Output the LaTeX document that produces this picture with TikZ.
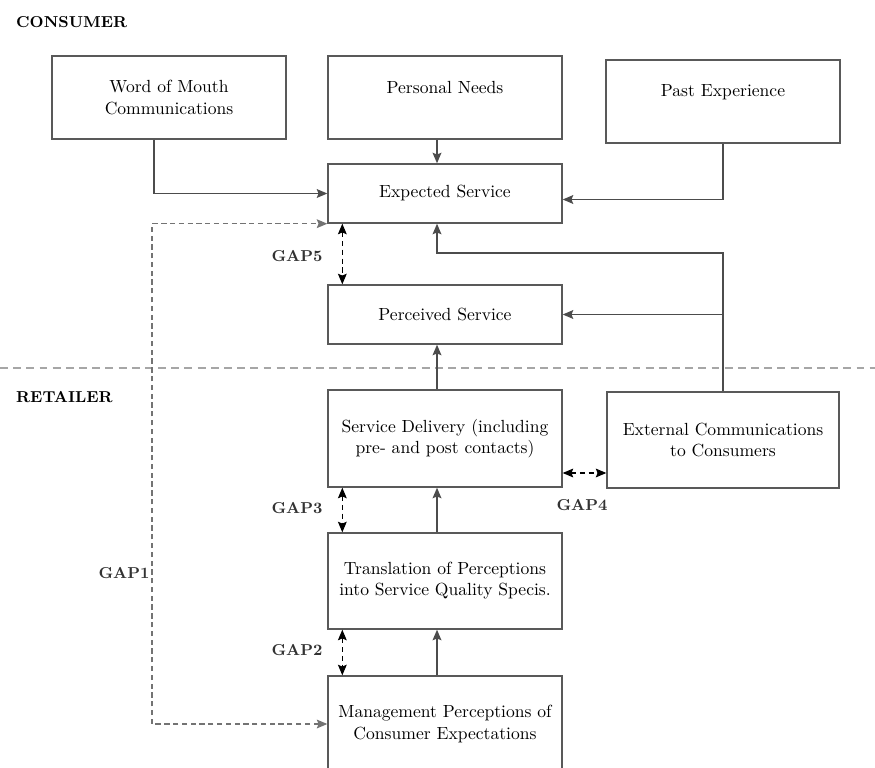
\documentclass[tikz,border=0pt]{standalone}
\usetikzlibrary{arrows.meta, positioning, calc}

\begin{document}
\begin{tikzpicture}[>={Stealth[length=6pt, width=5pt, inset=1pt]}, x=0.02cm, y=-0.02cm,
    box/.style={draw=black!65, line width=0.8pt, minimum width=4.68cm, align=center, inner sep=2pt},
    flow/.style={->, draw=black!70, line width=0.8pt},
    gap/.style={<->, densely dashed, line width=0.6pt},
    gaplabel/.style={font=\small\bfseries, text=black!80},
    side/.style={font=\small\bfseries, anchor=west}]
\useasboundingbox (0,0) rectangle (875,767);

% consumer / retailer split
\node [side] (consumer) at (10,22) {CONSUMER};
\node [side] (retailer) at (10,397) {RETAILER};
\draw[black!35, line width=0.8pt, dash pattern=on 4.5pt off 3pt] (0,368) -- (875,368);

\node [box, minimum height=1.66cm] (wom) at (169,97.5) {Word of Mouth\\Communications};
\node [box, minimum height=1.66cm] (needs) at (445,97.5) {Personal Needs\\\mbox{}};
\node [box, minimum height=1.66cm] (past) at (723,101.5) {Past Experience\\\mbox{}};
\node [box, minimum height=1.18cm] (expected) at (445,193.5) {Expected Service};
\node [box, minimum height=1.18cm] (perceived) at (445,314.5) {Perceived Service};
\node [box, minimum height=1.94cm] (delivery) at (445,438.5) {Service Delivery (including\\pre- and post contacts)};
\node [box, minimum height=1.92cm, minimum width=4.64cm] (extcomm) at (723,440) {External Communications\\to Consumers};
\node [box, minimum height=1.92cm] (transl) at (445,581) {Translation of Perceptions\\into Service Quality Specis.};
\node [box, minimum height=1.92cm] (mgmt) at (445,724) {Management Perceptions of\\Consumer Expectations};

% influences on the expected service
\draw[flow] ([xshift=-0.3cm]wom.south) |- (expected.west);
\draw[flow] ([xshift=-0.16cm]needs.south) -- ([xshift=-0.16cm]expected.north);
\draw[flow] (past.south) |- ([yshift=-0.12cm]expected.east);
\coordinate (extturn) at (722,253);
\draw[flow] (extcomm.north) -- (extcomm.north |- extturn) -| ([xshift=-0.16cm]expected.south);
\draw[flow] (extcomm.north |- perceived.east) -- (perceived.east);

% retailer chain
\draw[flow] ([xshift=-0.16cm]mgmt.north) -- ([xshift=-0.16cm]transl.south);
\draw[flow] ([xshift=-0.16cm]transl.north) -- ([xshift=-0.16cm]delivery.south);
\draw[flow] ([xshift=-0.16cm]delivery.north) -- ([xshift=-0.16cm]perceived.south);

% gaps
\draw[gap] ([xshift=0.3cm]expected.south west) -- ([xshift=0.3cm]perceived.north west);
\draw[gap] ([xshift=0.3cm]delivery.south west) -- ([xshift=0.3cm]transl.north west);
\draw[gap] ([xshift=0.3cm]transl.south west) -- ([xshift=0.3cm]mgmt.north west);
\coordinate (gapfour) at ([yshift=-0.69cm]delivery.east);
\draw[gap] (gapfour) -- (gapfour -| extcomm.west);
\coordinate (leftrail) at (152,450);
\draw[gap, black!55] (mgmt.west) -| (leftrail) |- (expected.south west);

\node [gaplabel] (gapfive) at (297,256) {GAP5};
\node [gaplabel] (gapthree) at (297,508) {GAP3};
\node [gaplabel] (gaptwo) at (297,650) {GAP2};
\node [gaplabel] (gapfourlabel) at (582,505) {GAP4};
\node [gaplabel] (gapone) at (124,573) {GAP1};
\end{tikzpicture}
\end{document}
